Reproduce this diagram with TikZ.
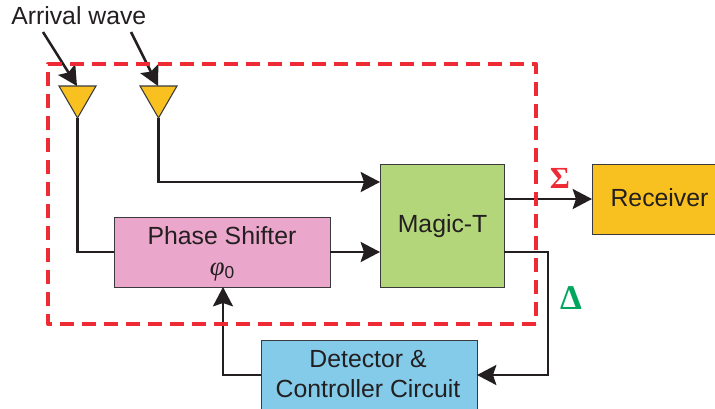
\documentclass[tikz,border=0pt]{standalone}
\usepackage{fontspec}
\setmainfont{Liberation Sans}
\newfontfamily\greekserif{Liberation Serif}
\usetikzlibrary{arrows.meta,calc}
\definecolor{ink}{HTML}{231F20}
\definecolor{edgeink}{HTML}{3A3A3C}
\definecolor{dashred}{HTML}{EE2A35}
\definecolor{gold}{HTML}{F8C11F}
\definecolor{pinkbox}{HTML}{EBA6CB}
\definecolor{greenbox}{HTML}{B3D67A}
\definecolor{bluebox}{HTML}{84CBEA}
\definecolor{deltagreen}{HTML}{00A65D}
\tikzset{
  x=0.75pt,y=-0.75pt,
  block/.style={draw=edgeink,line width=0.9pt,anchor=north west,inner sep=0pt,text=ink,font=\fontsize{18.6}{22}\selectfont,align=center},
  wire/.style={draw=ink,line width=1.9pt,line join=miter},
  arrowwire/.style={wire,-{Stealth[length=14.5pt,width=15pt,inset=2.5pt]}},
  horn/.style={draw=edgeink,line width=0.8pt,fill=gold,line join=miter},
  lbl/.style={text=ink,font=\fontsize{18.6}{22}\selectfont,inner sep=0pt},
}
\begin{document}
\begin{tikzpicture}
\useasboundingbox (0,0) rectangle (715,408);
\clip (0,0) rectangle (715,408);
% boxes
\node[block,fill=pinkbox,minimum width=162pt,minimum height=52.5pt] (ps) at (114,217) {};
\node[lbl] (pstext) at (222,236) {Phase Shifter};
\node[lbl,font=\fontsize{15}{18}\selectfont] (phi) at (222,272) {{\greekserif\itshape\fontsize{20}{20}\selectfont φ}\raisebox{-2pt}{\fontsize{13}{15}\selectfont 0}};
\node[block,fill=greenbox,minimum width=93pt,minimum height=92.25pt] (mt) at (380,164) {Magic-T};
\node[block,fill=gold,minimum width=93pt,minimum height=52.5pt] (rx) at (592,164) {};
\node[lbl] (rxtext) at (659.5,198) {Receiver};
\node[block,fill=bluebox,minimum width=162pt,minimum height=53pt] (dc) at (261,340) {};
\node[lbl] (dc1) at (368,359) {Detector \&};
\node[lbl] (dc2) at (368,389) {Controller Circuit};
% horns
\draw[horn] (59,86) -- (96,86) -- (77.5,118) -- cycle;
\draw[horn] (140,86) -- (177,86) -- (158.5,118) -- cycle;
\coordinate (h1) at (77.5,118);
\coordinate (h2) at (158.5,118);
\coordinate (h1top) at (77,86);
\coordinate (h2top) at (158,86);
\coordinate (w1) at (43,32);
\coordinate (w2) at (131,32);
% label
\node[lbl,anchor=west] (arr) at (11,16) {Arrival wave};
% wires
\coordinate (psin) at (114,252);
\coordinate (psout) at (330,252);
\coordinate (mtin1) at (380,182);
\coordinate (mtin2) at (380,252);
\coordinate (mtsum) at (504,199);
\coordinate (rxin) at (592,199);
\coordinate (mtdel) at (504,252);
\coordinate (dcin) at (477,375);
\coordinate (dcout) at (261,375);
\coordinate (psfb) at (223,287);
\draw[wire] (h1) -- (77.5,252) -- (psin);
\draw[arrowwire] (h2) -- (158.5,182) -- (mtin1);
\draw[arrowwire] (psout) -- (mtin2);
\draw[arrowwire] (mtsum) -- (rxin);
\draw[arrowwire] (w1) -- (h1top);
\draw[arrowwire] (w2) -- (h2top);
\draw[arrowwire] (mtdel) -- (548,252) -- (548,375) -- (dcin);
\draw[arrowwire] (dcout) -- (223,375) -- (psfb);
% dashed frame
\draw[draw=dashred,line width=2.5pt,dash pattern=on 10.5pt off 6pt,line join=round] (536,324) -- (48,324) -- (48,64) -- (536,64) -- cycle;
% symbols
\node[text=dashred,inner sep=0pt,font=\greekserif\bfseries\fontsize{23}{26}\selectfont] (sig) at (560,178) {Σ};
\node[text=deltagreen,inner sep=0pt,font=\greekserif\bfseries\fontsize{26}{30}\selectfont] (del) at (571,298) {Δ};
\end{tikzpicture}
\end{document}
